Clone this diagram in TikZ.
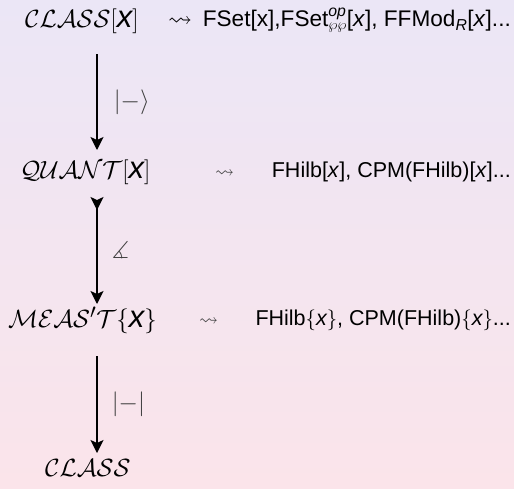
\documentclass[tikz,border=0pt]{standalone}
\usepackage{amsmath,amssymb}
\usepackage{fontspec}
\setmainfont{Liberation Sans}
\usetikzlibrary{arrows.meta}
\definecolor{bgtop}{RGB}{235,230,246}
\definecolor{bgbot}{RGB}{251,228,234}
\definecolor{lab}{RGB}{60,60,60}
\tikzset{
  big/.style={inner sep=0pt, anchor=west, font=\fontsize{31}{34}\selectfont},
  txt/.style={inner sep=0pt, anchor=east, font=\fontsize{21.5}{25}\selectfont},
  sq/.style={inner sep=0pt, anchor=west},
  arr/.style={line width=1.6pt, -{Stealth[length=13pt,width=13pt,inset=3pt]}},
  lbl/.style={inner sep=0pt, anchor=west, text=lab, font=\fontsize{24}{28}\selectfont}
}
\begin{document}
\begin{tikzpicture}[x=1pt,y=-1pt]
  \shade[top color=bgtop, bottom color=bgbot] (0,0) rectangle (514,488);
  \useasboundingbox (0,0) rectangle (514,488);

  % rows
  \node[big] (c1) at (25,21) {$\mathcal{CLASS}[\textit{x}]$};
  \node[sq] (s1) at (168,22) {\scalebox{2.4}{$\rightsquigarrow$}};
  \node[txt, font=\fontsize{22.6}{26}\selectfont] (t1) at (511,20) {FSet[x],FSet$^{\text{\itshape op}}_{\wp\wp}$[\textit{x}], FFMod$_{\text{\itshape R}}$[\textit{x}]...};

  \node[big] (q) at (20,172) {$\mathcal{QUANT}[\textit{x}]$};
  \node[sq, text=lab] (s2) at (215,174) {\scalebox{1.9}{$\rightsquigarrow$}};
  \node[txt] (t2) at (511,172) {FHilb[\textit{x}], CPM(FHilb)[\textit{x}]...};

  \node[big] (m) at (8,320) {$\mathcal{MEAS}'\mathcal{T}\{\textit{x}\}$};
  \node[sq, text=lab] (s3) at (199,322) {\scalebox{1.9}{$\rightsquigarrow$}};
  \node[txt] (t3) at (511,320) {FHilb$\{\textit{x}\}$, CPM(FHilb)$\{\textit{x}\}$...};

  \node[big] (c2) at (45,468) {$\mathcal{CLASS}$};

  % arrow end points
  \coordinate (a1) at (97,54);
  \coordinate (b1) at (97,150);
  \coordinate (a2) at (97,197);
  \coordinate (b2) at (97,304);
  \coordinate (a3) at (97,356);
  \coordinate (b3) at (97,453);

  \draw[arr] (a1) -- (b1) node[lbl, midway, xshift=16pt] (l1) {$|{-}\rangle$};
  \draw[line width=1.6pt, {Stealth[length=13pt,width=13pt,inset=3pt,reversed]}-{Stealth[length=13pt,width=13pt,inset=3pt]}] (a2) -- (b2)
    node[lbl, midway, xshift=14pt] (l2) {$\measuredangle$};
  \draw[arr] (a3) -- (b3) node[lbl, midway, xshift=14pt] (l3) {$|{-}|$};
\end{tikzpicture}
\end{document}
